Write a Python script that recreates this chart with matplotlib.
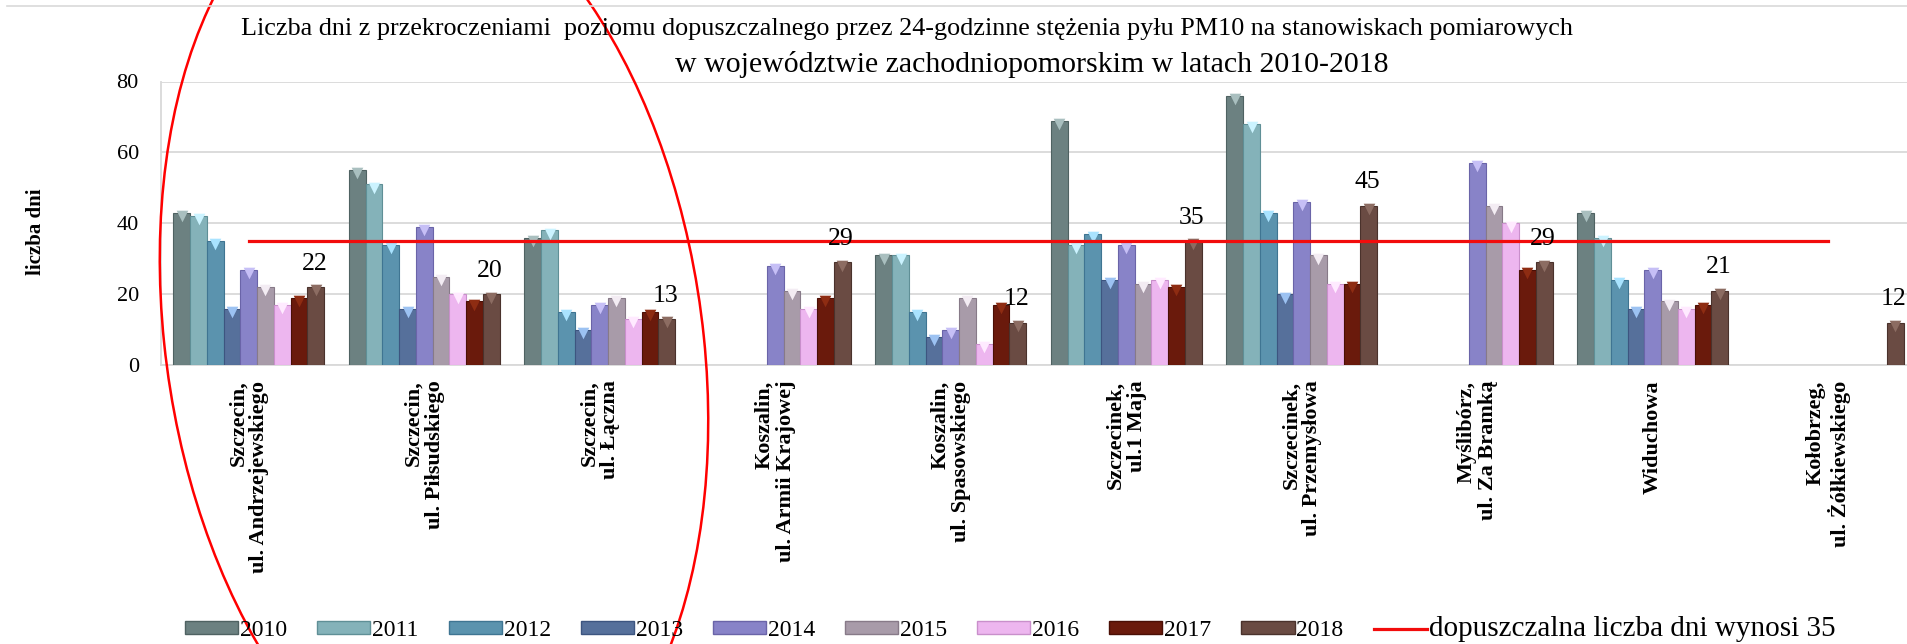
import numpy as np
import matplotlib
matplotlib.use("Agg")
import matplotlib.pyplot as plt
from matplotlib.patches import Patch, Ellipse
from matplotlib.lines import Line2D

nan = np.nan

# stanowiska pomiarowe
stations = [
    "Szczecin,\nul. Andrzejewskiego",
    "Szczecin,\nul. Piłsudskiego",
    "Szczecin,\nul. Łączna",
    "Koszalin,\nul. Armii Krajowej",
    "Koszalin,\nul. Spasowskiego",
    "Szczecinek,\nul.1 Maja",
    "Szczecinek,\nul. Przemysłowa",
    "Myślibórz,\nul. Za Bramką",
    "Widuchowa",
    "Kołobrzeg,\nul. Żółkiewskiego",
]
years = ["2010", "2011", "2012", "2013", "2014", "2015", "2016", "2017", "2018"]

v2010 = [43, 55, 36, nan, 31, 69, 76, nan, 43, nan]
v2011 = [42, 51, 38, nan, 31, 34, 68, nan, 36, nan]
v2012 = [35, 34, 15, nan, 15, 37, 43, nan, 24, nan]
v2013 = [16, 16, 10, nan, 8, 24, 20, nan, 16, nan]
v2014 = [27, 39, 17, 28, 10, 34, 46, 57, 27, nan]
v2015 = [22, 25, 19, 21, 19, 23, 31, 45, 18, nan]
v2016 = [17, 20, 13, 16, 6, 24, 23, 40, 16, nan]
v2017 = [19, 18, 15, 19, 17, 22, 23, 27, 17, nan]
v2018 = [22, 20, 13, 29, 12, 35, 45, 29, 21, 12]
limit = 35

series = [v2010, v2011, v2012, v2013, v2014, v2015, v2016, v2017, v2018]
colors = ["#6C8181", "#84B2B9", "#5B93AE", "#56709B", "#8883C8",
          "#A89BA9", "#EDB6EF", "#6A1A0C", "#6A4B43"]
edges = ["#4F6262", "#5F8F96", "#3F7592", "#3D5580", "#6A64A8",
         "#877A88", "#C98FCB", "#4A0F05", "#4A322C"]
caps = ["#A9BFBF", "#CBF3FF", "#A9E3FF", "#9CC2F2", "#C6BFF6",
        "#F3ECF3", "#FFEAFF", "#8E2C12", "#8C6C62"]

plt.rcParams["font.family"] = ["Liberation Serif", "DejaVu Serif"]

fig = plt.figure(figsize=(19.08, 6.44), dpi=100)
ax = fig.add_axes([161 / 1908, 1 - 365.3 / 644, 1 - 161 / 1908, (365.3 - 81.5) / 644])

x = np.arange(len(stations))
w = 0.0954
for i, (vals, c, ec, cc) in enumerate(zip(series, colors, edges, caps)):
    vals = np.array(vals, dtype=float)
    ok = ~np.isnan(vals)
    xs = x[ok] + (i - 4) * w
    ax.bar(xs, vals[ok], width=w, color=c, edgecolor=ec, linewidth=0.8, zorder=3)
    ax.scatter(xs, vals[ok] - 0.9, marker="v", s=70, color=cc, linewidths=0, zorder=4)

ax.plot(x, [limit] * len(x), color="#F20C0C", linewidth=2.3, zorder=5)

# etykiety dla 2018
for xi, v in zip(x, v2018):
    ax.annotate(str(v), (xi + 4 * w, v), xytext=(-1, 17), textcoords="offset points",
                ha="center", va="center", fontsize=18.5, zorder=6)

ax.set_ylim(0, 80)
ax.set_xlim(-0.5, -0.5 + (1908 - 161) / 175.5)
ax.set_yticks([0, 20, 40, 60, 80])
ax.tick_params(axis="y", labelsize=16, length=0, pad=16)
ax.set_xticks(x)
ax.set_xticklabels(stations, rotation=90, fontsize=16, fontweight="bold",
                   va="top", ha="center", multialignment="right", linespacing=1.1)
ax.tick_params(axis="x", length=0, pad=11)
ax.grid(axis="y", color="#D9D9D9", linewidth=1.3, zorder=0)
for s in ["top", "right"]:
    ax.spines[s].set_visible(False)
ax.spines["left"].set_color("#D9D9D9")
ax.spines["bottom"].set_color("#D9D9D9")
ax.spines["left"].set_linewidth(1.3)
ax.spines["bottom"].set_linewidth(1.3)

fig.text(36 / 1908, 1 - 232 / 644, "liczba dni", rotation=90, ha="center", va="center",
         fontsize=15, fontweight="bold")

fig.text(907 / 1908, 1 - 29 / 644,
         "Liczba dni z przekroczeniami  poziomu dopuszczalnego przez 24-godzinne stężenia pyłu PM10 na stanowiskach pomiarowych",
         ha="center", va="center", fontsize=18.8)
fig.text(1032 / 1908, 1 - 65 / 644,
         "w województwie zachodniopomorskim w latach 2010-2018",
         ha="center", va="center", fontsize=21.5)

handles = [Patch(facecolor=c, edgecolor=ec, label=y) for c, ec, y in zip(colors, edges, years)]
handles.append(Line2D([0], [0], color="#F20C0C", linewidth=2.3, label="dopuszczalna liczba dni wynosi 35"))
leg = fig.legend(handles=handles, loc="center left", bbox_to_anchor=(185 / 1908, 1 - 629 / 644),
                 ncol=10, frameon=False, fontsize=17, handlelength=2.25, handleheight=0.45,
                 handletextpad=0.08, columnspacing=1.27, borderpad=0, borderaxespad=0)
leg.get_texts()[-1].set_fontsize(21)

# linia u góry i odręczna elipsa
fig.add_artist(Line2D([7 / 1908, 1], [1 - 6 / 644, 1 - 6 / 644], color="#D9D9D9", linewidth=1.2))
fig.add_artist(Ellipse((434 / 1908, 1 - 340 / 644), 540 / 1908, 945 / 644, angle=2,
                       fill=False, edgecolor="#FF0000", linewidth=1.8))

fig.savefig("out.png", dpi=100)
